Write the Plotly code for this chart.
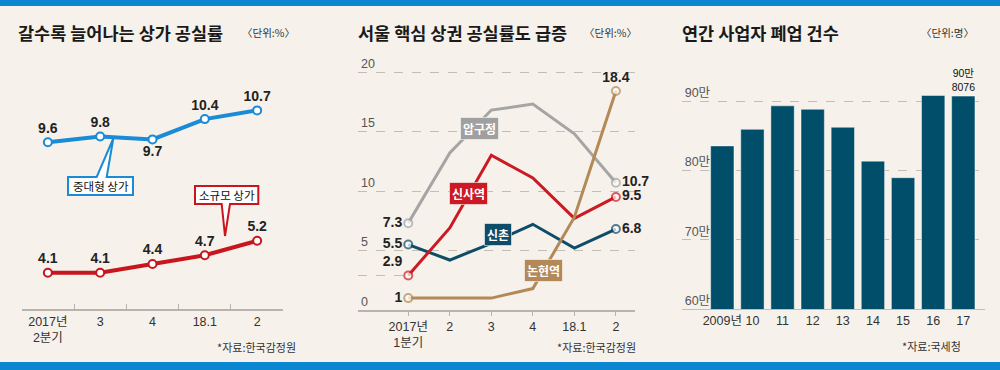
import plotly.graph_objects as go

W, H = 1000, 370


def X(p):
    return p / W


def Y(p):
    return 1 - p / H


# ---------------- data ----------------
quarters_a = ["2017년<br>2분기", "3", "4", "18.1", "2"]
mid_large = [9.6, 9.8, 9.7, 10.4, 10.7]
small = [4.1, 4.1, 4.4, 4.7, 5.2]

quarters_b = ["2017년<br>1분기", "2", "3", "4", "18.1", "2"]
apgujeong = [7.3, 13.2, 16.8, 17.3, 14.8, 10.7]
sinsa = [2.9, 6.9, 13.0, 11.1, 7.7, 9.5]
sinchon = [5.5, 4.2, 5.6, 7.2, 5.2, 6.8]
nonhyeon = [1.0, 1.0, 1.0, 1.8, 7.8, 18.4]
y_ticks_b = [0, 5, 10, 15, 20]

years = ["2009년", "10", "11", "12", "13", "14", "15", "16", "17"]
closures = [836000, 860000, 894000, 889000, 863000, 814000, 790000, 909000, 908076]
y_ticks_c = [600000, 700000, 800000, 900000]
y_ticktext_c = ["60만", "70만", "80만", "90만"]

# ---------------- style ----------------
BG = "#f6f1ea"
BAND = "#0a87d0"
NUM = "Liberation Sans, Noto Sans CJK KR, sans-serif"
KR = "Noto Sans CJK KR, sans-serif"
BLUE = "#1a8bd6"
RED1 = "#c8161e"
GREY = "#a5a5a5"
RED = "#cc1a24"
TEAL = "#0f4c68"
TAN = "#b38a57"
BAR = "#004e6a"
AXIS = "#b8b3ad"
GRID = "#c2bdb7"

fig = go.Figure()

# ---------------- panel 1 ----------------
fig.add_trace(go.Scatter(
    x=quarters_a, y=mid_large, xaxis="x", yaxis="y", mode="lines+markers+text",
    line=dict(color=BLUE, width=4),
    marker=dict(size=8, color="white", line=dict(color=BLUE, width=2)),
    text=[f"{v:g}" for v in mid_large],
    textposition=["top center", "top center", "bottom center", "top center", "top center"],
    textfont=dict(family=NUM, size=14, color="#222", weight="bold"),
    cliponaxis=False, hoverinfo="skip"))
fig.add_trace(go.Scatter(
    x=quarters_a, y=small, xaxis="x", yaxis="y2", mode="lines+markers+text",
    line=dict(color=RED1, width=4),
    marker=dict(size=8, color="white", line=dict(color=RED1, width=2)),
    text=[f"{v:g}" for v in small],
    textposition="top center",
    textfont=dict(family=NUM, size=14, color="#222", weight="bold"),
    cliponaxis=False, hoverinfo="skip"))

# ---------------- panel 2 ----------------
idx_b = list(range(len(quarters_b)))


def ends(vals):
    n = len(vals)
    return [f"{v:g}" if i in (0, n - 1) else "" for i, v in enumerate(vals)]


def end_sizes(vals, s):
    n = len(vals)
    return [s if i in (0, n - 1) else 0 for i in range(n)]


series_b = [
    (apgujeong, GREY, "middle left", "middle right"),
    (sinchon, TEAL, "middle left", "middle right"),
    (sinsa, RED, "top left", "middle right"),
    (nonhyeon, TAN, "middle left", "top center"),
]
for vals, col, p0, p1 in series_b:
    n = len(vals)
    pos = [p0] + ["middle center"] * (n - 2) + [p1]
    fig.add_trace(go.Scatter(
        x=idx_b, y=vals, xaxis="x3", yaxis="y3", mode="lines+markers+text",
        line=dict(color=col, width=3),
        marker=dict(size=end_sizes(vals, 8), color="white",
                    line=dict(color=col, width=end_sizes(vals, 2))),
        text=ends(vals), textposition=pos,
        textfont=dict(family=NUM, size=14, color="#222", weight="bold"),
        cliponaxis=False, hoverinfo="skip"))

# ---------------- panel 3 ----------------
bar_text = [""] * (len(closures) - 1) + [f"{closures[-1] // 10000}만<br>{closures[-1] % 10000}"]
fig.add_trace(go.Bar(
    x=years, y=closures, xaxis="x5", yaxis="y5", width=0.774,
    marker=dict(color=BAR, line=dict(color="rgba(255,255,255,0.45)", width=1)),
    text=bar_text, textposition="outside",
    textfont=dict(family=NUM, size=13.5, color="#111"),
    cliponaxis=False, hoverinfo="skip"))

# ---------------- layout ----------------
tickfont = dict(family=NUM, size=12.5, color="#333")
fig.update_layout(
    width=W, height=H, margin=dict(l=0, r=0, t=0, b=0),
    paper_bgcolor=BG, plot_bgcolor=BG, showlegend=False,
    xaxis=dict(type="category", domain=[X(21.7), X(283.3)], range=[-0.5, 4.5],
               anchor="free", position=Y(310), showline=True, linecolor=AXIS, linewidth=1.5,
               ticks="inside", tickson="boundaries", ticklen=5, tickcolor=AXIS,
               tickfont=tickfont, showgrid=False, zeroline=False, fixedrange=True),
    yaxis=dict(domain=[Y(159.7), Y(101.7)], range=[9.0, 11.0], visible=False, anchor="x"),
    yaxis2=dict(domain=[Y(290.1), Y(232.1)], range=[3.5, 5.5], visible=False, anchor="x"),
    xaxis3=dict(domain=[X(358), X(635)], range=[-1.21, 5.46], anchor="y3",
                tickvals=idx_b, ticktext=quarters_b, ticks="outside", ticklen=4,
                tickcolor=AXIS, showline=True, linecolor=AXIS, linewidth=1.5,
                tickfont=tickfont, showgrid=False, zeroline=False),
    yaxis3=dict(domain=[Y(310), Y(48.2)], range=[0, 22], anchor="x3",
                tickvals=y_ticks_b, ticklabelposition="inside top", showgrid=True,
                griddash="dash", gridcolor=GRID, gridwidth=1, zeroline=False,
                ticks="", showline=False, tickfont=dict(family=NUM, size=12.5, color="#555")),
    xaxis5=dict(type="category", domain=[X(681.7), X(985)], range=[-1.348, 8.72], anchor="y5",
                showline=True, linecolor=GRID, linewidth=1, ticks="", tickfont=tickfont,
                showgrid=False, zeroline=False),
    yaxis5=dict(domain=[Y(309), Y(67.15)], range=[600000, 950000], anchor="x5",
                tickvals=y_ticks_c, ticktext=y_ticktext_c, ticklabelposition="inside top",
                showgrid=True, griddash="dash", gridcolor=GRID, gridwidth=1,
                zeroline=False, ticks="", tickfont=dict(family=NUM, size=12.5, color="#555")),
)


def ppath(pts):
    return "M " + " L ".join(f"{X(a):.5f},{Y(b):.5f}" for a, b in pts) + " Z"


shapes = [
    dict(type="rect", xref="paper", yref="paper", x0=0, x1=1, y0=Y(6), y1=1,
         fillcolor=BAND, line=dict(width=0)),
    dict(type="rect", xref="paper", yref="paper", x0=0, x1=1, y0=0, y1=Y(362),
         fillcolor=BAND, line=dict(width=0)),
    # callout: 중대형 상가
    dict(type="path", xref="paper", yref="paper",
         path=ppath([(68, 177), (96.7, 177), (113.3, 138.5), (106.7, 177),
                     (133, 177), (133, 195), (68, 195)]),
         fillcolor="white", line=dict(color=BLUE, width=2)),
    # callout: 소규모 상가
    dict(type="path", xref="paper", yref="paper",
         path=ppath([(195, 186), (258.3, 186), (258.3, 204), (230, 204),
                     (225, 236), (221.7, 204), (195, 204)]),
         fillcolor="white", line=dict(color=RED1, width=2)),
    # dashed guide from the y-axis to the first 신사역 point
    dict(type="line", xref="paper", yref="y3", x0=X(358), x1=X(403),
         y0=sinsa[0], y1=sinsa[0], line=dict(color=GRID, width=1, dash="dash")),
]
fig.update_layout(shapes=shapes)

ann = []


def txt(x, y, t, size, color="#222", xanchor="left", weight="normal", family=KR):
    ann.append(dict(x=X(x), y=Y(y), xref="paper", yref="paper", text=t, showarrow=False,
                    xanchor=xanchor, yanchor="middle",
                    font=dict(family=family, size=size, color=color, weight=weight)))


# titles
txt(16, 33, "갈수록 늘어나는 상가 공실률", 17.5, "#1a1a1a", weight="bold")
txt(356, 33, "서울 핵심 상권 공실률도 급증", 17.5, "#1a1a1a", weight="bold")
txt(680, 33, "연간 사업자 폐업 건수", 17.5, "#1a1a1a", weight="bold")
# units
txt(297, 33, "〈단위:%〉", 10.5, "#333", xanchor="right")
txt(639, 33, "〈단위:%〉", 10.5, "#333", xanchor="right")
txt(976, 33, "〈단위:명〉", 10.5, "#333", xanchor="right")
# sources
txt(298, 347, "*자료:한국감정원", 11, "#333", xanchor="right")
txt(638, 347, "*자료:한국감정원", 11, "#333", xanchor="right")
txt(963, 346, "*자료:국세청", 11, "#333", xanchor="right")
# callout texts
txt(100.5, 186, "중대형 상가", 11.5, "#111", xanchor="center")
txt(226.7, 195, "소규모 상가", 11.5, "#111", xanchor="center")

# series label boxes in panel 2
for cx, cy, t, col in [(479.3, 128.8, "압구정", "#a0a0a0"), (468.3, 193.3, "신사역", RED),
                       (497.5, 234.2, "신촌", TEAL), (543.3, 270, "논현역", TAN)]:
    ann.append(dict(x=X(cx), y=Y(cy), xref="paper", yref="paper", text=t, showarrow=False,
                    xanchor="center", yanchor="middle", bgcolor=col,
                    bordercolor="rgba(255,255,255,0.55)", borderwidth=1, borderpad=2,
                    font=dict(family=KR, size=12, color="white", weight="bold")))

fig.update_layout(annotations=ann)

fig.write_html(
    "out.html",
    config={"displayModeBar": False},
    post_script="document.body.style.margin='0px';document.body.style.overflow='hidden';",
)
